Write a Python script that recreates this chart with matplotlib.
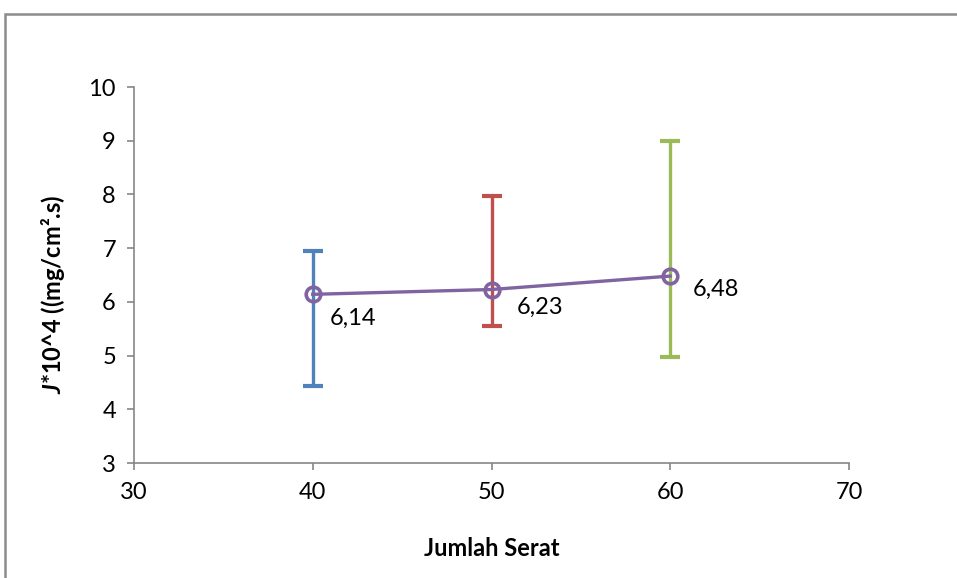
import matplotlib
matplotlib.use("Agg")
import matplotlib.pyplot as plt
from matplotlib.patches import Rectangle

# Data
fibers = [40, 50, 60]
flux = [6.14, 6.23, 6.48]
err_low = [4.43, 5.55, 4.97]
err_high = [6.95, 7.97, 8.99]
bar_colors = ["#4F81BD", "#C0504D", "#9BBB59"]
value_labels = ["6,14", "6,23", "6,48"]
label_offsets = [(12, -17), (18, -13), (16.5, -9.5)]

x_ticks = [30, 40, 50, 60, 70]
y_ticks = [3, 4, 5, 6, 7, 8, 9, 10]

plt.rcParams["font.family"] = ["Lato", "DejaVu Sans"]
plt.rcParams["mathtext.fontset"] = "custom"
plt.rcParams["mathtext.it"] = "Lato:italic:bold"
plt.rcParams["mathtext.rm"] = "Lato:bold"

fig = plt.figure(figsize=(9.57, 5.78), dpi=100)
fig.patch.set_facecolor("white")

# chart frame
fig.patches.append(Rectangle((5 / 957, -0.05), 1.1, 1 - 14 / 578 + 0.05,
                             transform=fig.transFigure, fill=False,
                             edgecolor="#8c8c8c", linewidth=1.8))

ax = fig.add_axes([134 / 957, 1 - 463 / 578, (849 - 134) / 957, (463 - 87) / 578])

axis_gray = "#868686"
for i, x in enumerate(fibers):
    ax.errorbar([x], [flux[i]],
                yerr=[[flux[i] - err_low[i]], [err_high[i] - flux[i]]],
                fmt="none", ecolor=bar_colors[i], elinewidth=2.4,
                capsize=7.5, capthick=3, zorder=2)

ax.plot(fibers, flux, color="#8064A2", linewidth=2.4, marker="o",
        markersize=10.5, markerfacecolor="none", markeredgecolor="#8064A2",
        markeredgewidth=2.6, zorder=3)

for x, y, t, off in zip(fibers, flux, value_labels, label_offsets):
    ax.annotate(t, (x, y), xytext=off, textcoords="offset points",
                ha="left", va="center", fontsize=17, color="black")

ax.set_xlim(30, 70)
ax.set_ylim(3, 10)
ax.set_xticks(x_ticks)
ax.set_yticks(y_ticks)
ax.tick_params(axis="both", labelsize=17, colors=axis_gray, labelcolor="black",
               length=5, width=1.2, direction="out")
ax.tick_params(axis="x", pad=9)
ax.tick_params(axis="y", pad=8)

for s in ["top", "right"]:
    ax.spines[s].set_visible(False)
for s in ["left", "bottom"]:
    ax.spines[s].set_color(axis_gray)
    ax.spines[s].set_linewidth(1.2)

ax.set_xlabel("Jumlah Serat", fontsize=17, fontweight="bold")
ax.xaxis.set_label_coords(0.5, -0.198)
ax.set_ylabel("$J$*10^4 ((mg/cm\u00b2.s)", fontsize=17, fontweight="bold")
ax.yaxis.set_label_coords(-0.094, 0.45)

fig.savefig("out.png", dpi=100)
